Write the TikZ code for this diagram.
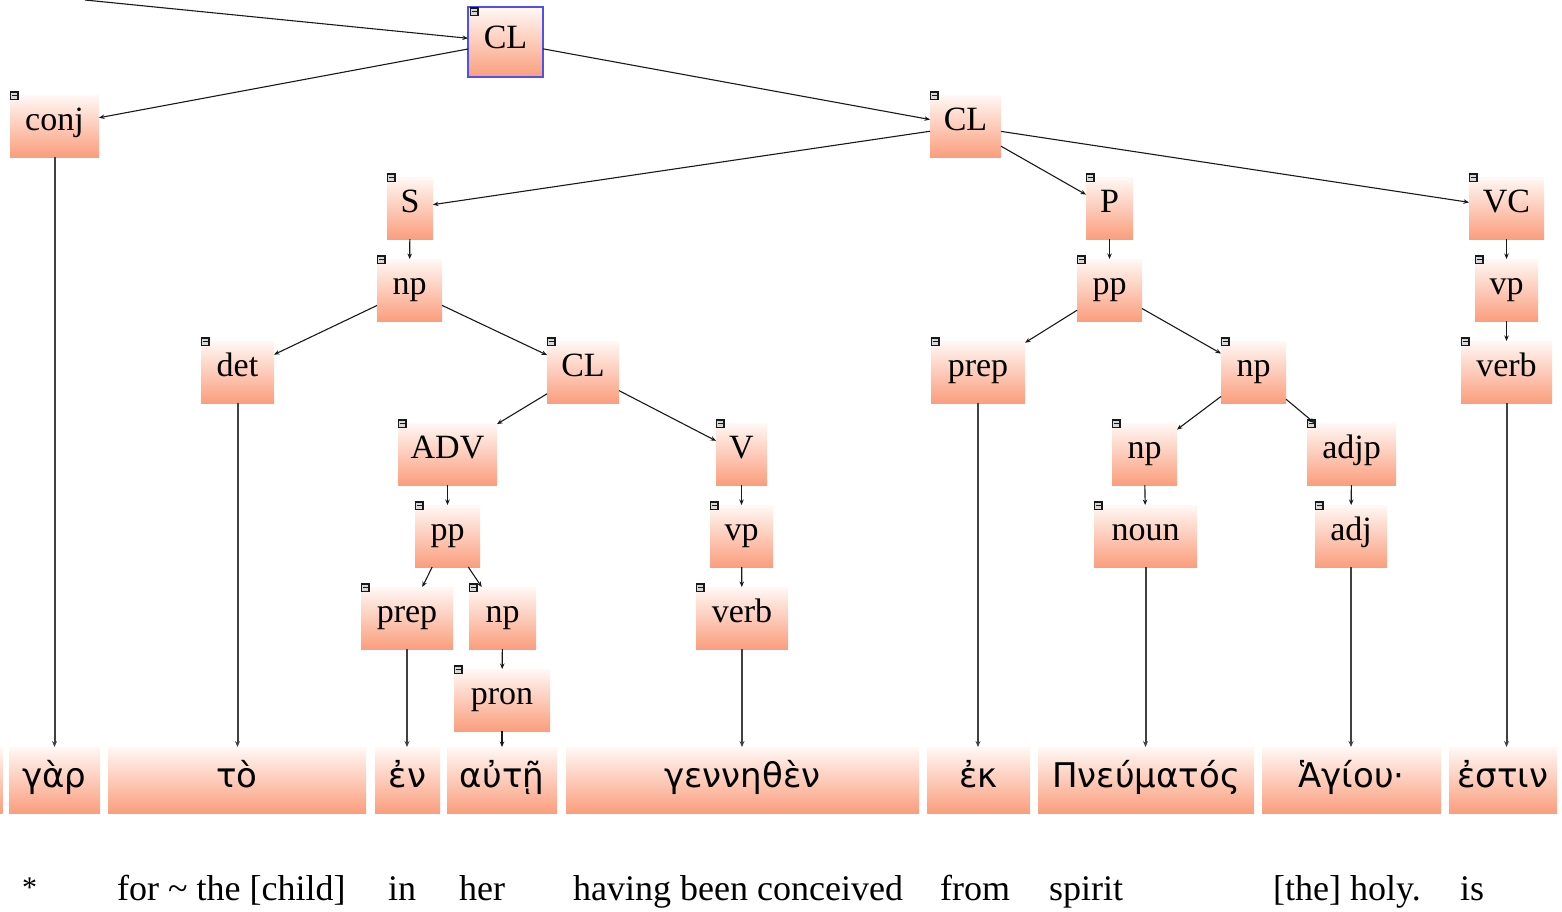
\documentclass[tikz,border=0pt]{standalone}
\usepackage{fontspec}
\setmainfont{Liberation Serif}
\newfontfamily\grkfont{DejaVu Sans}
\usetikzlibrary{arrows.meta}
\definecolor{boxtop}{RGB}{255,248,245}
\definecolor{boxbot}{RGB}{250,158,125}
\definecolor{selblue}{RGB}{80,80,235}
\definecolor{edgecol}{RGB}{25,25,25}
\definecolor{leadcol}{RGB}{65,65,65}
\tikzset{
  tbox/.style={rectangle, inner sep=0pt, outer sep=0pt, top color=boxtop, bottom color=boxbot,
    minimum height=62pt, font=\fontsize{34}{40}\selectfont, text height=24pt, text depth=16pt},
  wbox/.style={rectangle, inner sep=0pt, outer sep=0pt, top color=boxtop, bottom color=boxbot,
    minimum height=66pt, font=\grkfont\fontsize{34}{40}\selectfont, text height=28pt, text depth=14pt},
  edge/.style={draw=edgecol, line width=1.1pt, -{Stealth[length=5.5pt,width=4.5pt]}},
  lead/.style={draw=leadcol, line width=2pt, -{Stealth[length=6pt,width=5pt]}},
  gloss/.style={font=\fontsize{36}{42}\selectfont, anchor=base west, inner sep=0pt},
  mbox/.pic={
    \draw[fill=black!15, draw=black!90, line width=1.2pt] (0.5,-3) rectangle (8,4.5);
    \draw[black!90, line width=1.4pt] (1.5,0.75) -- (7,0.75);
  }
}
\begin{document}
\begin{tikzpicture}[x=1pt,y=-1pt]
\useasboundingbox (0,0) rectangle (1562,911);

% tree nodes
\node[tbox, minimum width=75pt, minimum height=70pt, draw=selblue, line width=1.8pt, text height=26pt, text depth=14pt] (CL1) at (505.5,42) {CL};
\node[tbox, minimum width=89pt] (conj) at (54.5,126) {conj};
\node[tbox, minimum width=71pt] (CL2) at (965.5,126) {CL};
\node[tbox, minimum width=46pt] (S) at (410,208) {S};
\node[tbox, minimum width=47pt] (P) at (1109.5,208) {P};
\node[tbox, minimum width=75pt] (VC) at (1506.5,208) {VC};
\node[tbox, minimum width=65pt] (npS) at (409.5,290) {np};
\node[tbox, minimum width=65pt] (ppP) at (1109.5,290) {pp};
\node[tbox, minimum width=63pt] (vpVC) at (1506.5,290) {vp};
\node[tbox, minimum width=73pt] (det) at (237.5,372) {det};
\node[tbox, minimum width=72pt] (CL3) at (583,372) {CL};
\node[tbox, minimum width=94pt] (prepP) at (978,372) {prep};
\node[tbox, minimum width=65pt] (npP) at (1253.5,372) {np};
\node[tbox, minimum width=91pt] (verbVC) at (1506.5,372) {verb};
\node[tbox, minimum width=99pt] (ADV) at (447.5,454) {ADV};
\node[tbox, minimum width=51pt] (V) at (741.5,454) {V};
\node[tbox, minimum width=65pt] (npN) at (1144.5,454) {np};
\node[tbox, minimum width=89pt] (adjp) at (1351.5,454) {adjp};
\node[tbox, minimum width=65pt] (ppA) at (447.5,536) {pp};
\node[tbox, minimum width=63pt] (vpV) at (741.5,536) {vp};
\node[tbox, minimum width=103pt] (noun) at (1145.5,536) {noun};
\node[tbox, minimum width=72pt] (adj) at (1351,536) {adj};
\node[tbox, minimum width=92pt] (prepA) at (407,618) {prep};
\node[tbox, minimum width=67pt] (npA) at (502.5,618) {np};
\node[tbox, minimum width=92pt] (verbV) at (742,618) {verb};
\node[tbox, minimum width=96pt] (pron) at (502,700) {pron};

% collapse icons
\pic at ([shift={(2,4)}]CL1.north west) {mbox};
\foreach \n in {conj,CL2,S,P,VC,npS,ppP,vpVC,det,CL3,prepP,npP,verbVC,ADV,V,npN,adjp,ppA,vpV,noun,adj,prepA,npA,verbV,pron}
  \pic at (\n.north west) {mbox};

% word row
\shade[top color=boxtop, bottom color=boxbot] (0,747) rectangle (2.5,813);
\node[wbox, minimum width=91pt] (w1) at (54.5,780) {γὰρ};
\node[wbox, minimum width=258pt] (w2) at (237,780) {τὸ};
\node[wbox, minimum width=65pt] (w3) at (407.5,780) {ἐν};
\node[wbox, minimum width=110pt] (w4) at (502,780) {αὐτῇ};
\node[wbox, minimum width=353pt] (w5) at (742.5,780) {γεννηθὲν};
\node[wbox, minimum width=103pt] (w6) at (978.5,780) {ἐκ};
\node[wbox, minimum width=216pt] (w7) at (1146,780) {Πνεύματός};
\node[wbox, minimum width=179pt] (w8) at (1351.5,780) {Ἁγίου·};
\node[wbox, minimum width=108pt] (w9) at (1503,780) {ἐστιν};

% glosses
\node[gloss, font=\fontsize{30}{36}\selectfont] (g0) at (22,897) {*};
\node[gloss] (g1) at (117,900) {for \textasciitilde{} the [child]};
\node[gloss] (g2) at (388,900) {in};
\node[gloss] (g3) at (459,900) {her};
\node[gloss] (g4) at (573,900) {having been conceived};
\node[gloss] (g5) at (940,900) {from};
\node[gloss] (g6) at (1049,900) {spirit};
\node[gloss] (g7) at (1273,900) {[the] holy.};
\node[gloss] (g8) at (1460,900) {is};

% edges
\coordinate (topin) at (85,0);
\draw[edge] (topin) -- (CL1);
\draw[edge] (CL1) -- (conj);
\draw[edge] (CL1) -- (CL2);
\draw[edge] (CL2) -- (S);
\draw[edge] (CL2) -- (P);
\draw[edge] (CL2) -- (VC);
\draw[edge] (S) -- (npS);
\draw[edge] (npS) -- (det);
\draw[edge] (npS) -- (CL3);
\draw[edge] (CL3) -- (ADV);
\draw[edge] (CL3) -- (V);
\draw[edge] (ADV) -- (ppA);
\draw[edge] (ppA) -- (prepA);
\draw[edge] (ppA) -- (npA);
\draw[edge] (npA) -- (pron);
\draw[edge] (V) -- (vpV);
\draw[edge] (vpV) -- (verbV);
\draw[edge] (P) -- (ppP);
\draw[edge] (ppP) -- (prepP);
\draw[edge] (ppP) -- (npP);
\draw[edge] (npP) -- (npN);
\draw[edge] (npP) -- (adjp);
\draw[edge] (npN) -- (noun);
\draw[edge] (adjp) -- (adj);
\draw[edge] (VC) -- (vpVC);
\draw[edge] (vpVC) -- (verbVC);

% leads to words
\draw[lead] (conj) -- (conj |- w1.north);
\draw[lead] (det) -- (det |- w2.north);
\draw[lead] (prepA) -- (prepA |- w3.north);
\draw[edge] (pron) -- (pron |- w4.north);
\draw[lead] (verbV) -- (verbV |- w5.north);
\draw[lead] (prepP) -- (prepP |- w6.north);
\draw[lead] (noun) -- (noun |- w7.north);
\draw[lead] (adj) -- (adj |- w8.north);
\draw[lead] (verbVC) -- (verbVC |- w9.north);
\end{tikzpicture}
\end{document}
